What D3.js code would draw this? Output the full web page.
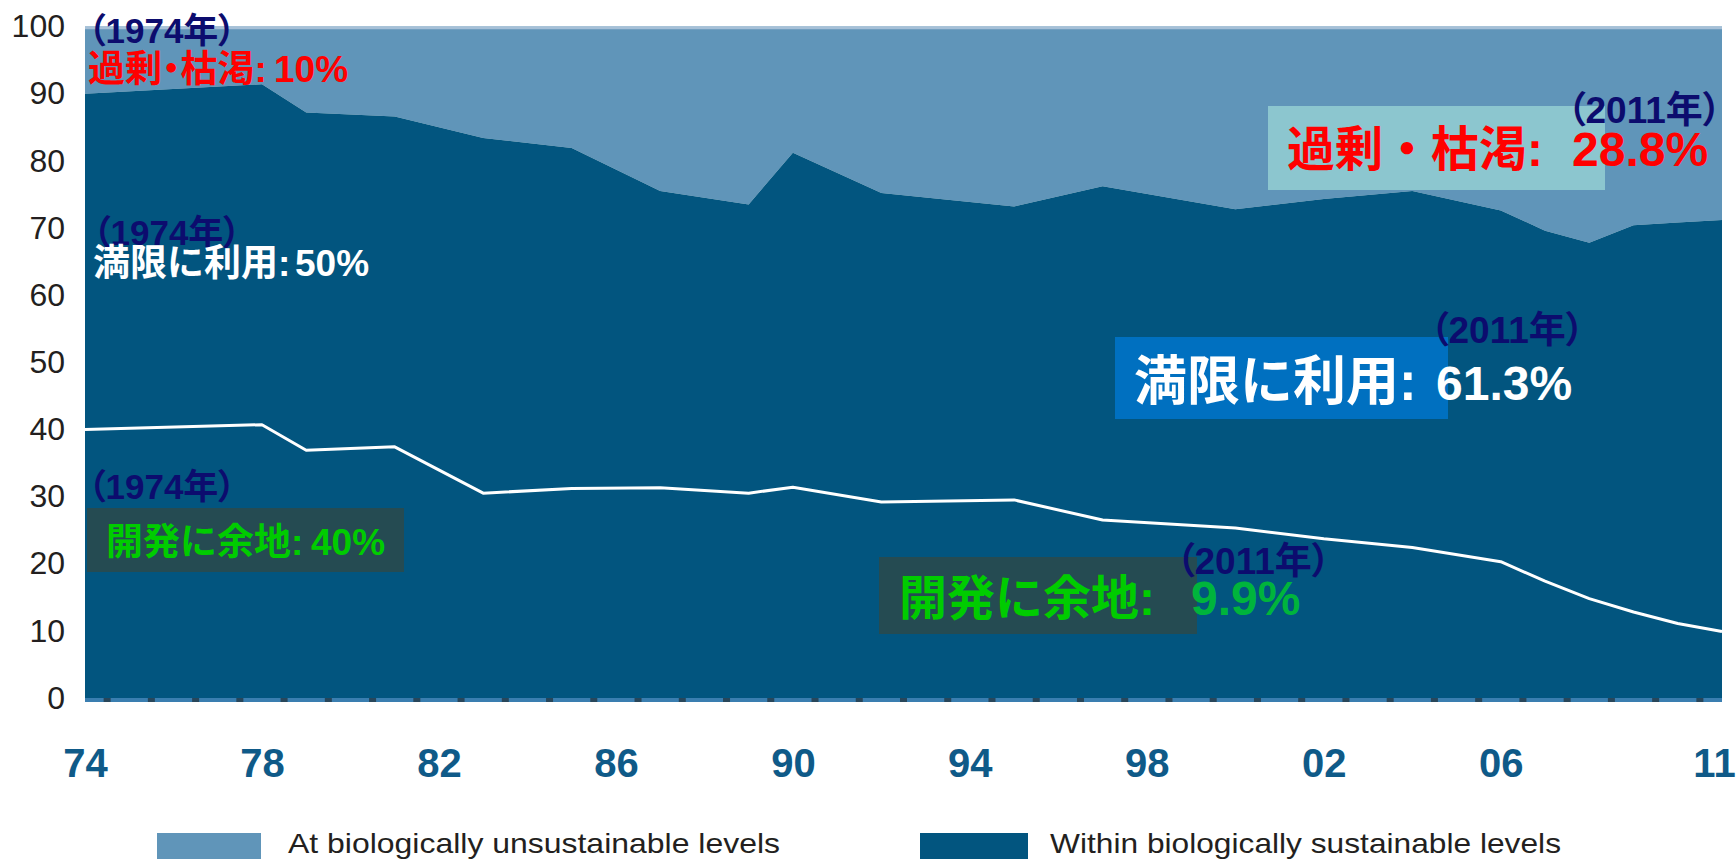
<!DOCTYPE html>
<html>
<head>
<meta charset="utf-8">
<script src="https://cdn.jsdelivr.net/npm/d3@7"></script>
<style>
  html, body { margin: 0; padding: 0; background: #ffffff; }
  svg { display: block; }
</style>
</head>
<body>
<svg id="chart" width="1736" height="859"></svg>
<script>
// Assessment years
const years = [1974, 1978, 1979, 1981, 1983, 1985, 1987, 1989, 1990, 1992, 1995, 1997,
               2000, 2002, 2004, 2006, 2007, 2008, 2009, 2010, 2011];
// Share of stocks within biologically sustainable levels (%)
const sustainable = [90.0, 91.4, 87.2, 86.6, 83.4, 81.9, 75.5, 73.5, 81.2, 75.2, 73.2, 76.2,
                     72.8, 74.3, 75.5, 72.6, 69.6, 67.8, 70.4, 70.8, 71.2];
// Share of stocks with room for expansion (under-fished, %)
const underfished = [40.0, 40.7, 36.9, 37.4, 30.5, 31.2, 31.3, 30.5, 31.4, 29.2, 29.5, 26.5,
                     25.3, 23.7, 22.4, 20.3, 17.4, 14.8, 12.8, 11.1, 9.9];

// Axis ticks
const xTickYears = [1974, 1978, 1982, 1986, 1990, 1994, 1998, 2002, 2006, 2011];
const xTickLabels = ["74", "78", "82", "86", "90", "94", "98", "02", "06", "11"];
const yTickValues = [0, 10, 20, 30, 40, 50, 60, 70, 80, 90, 100];

// Legend
const legendLabels = ["At biologically unsustainable levels", "Within biologically sustainable levels"];

const COL_OVER = "#6095b9";
const COL_SUST = "#02557f";
const NAVY = "#0c0c6e";
const FONT = "'Liberation Sans', 'Noto Sans CJK JP', Arial, sans-serif";

const svg = d3.select("#chart");
const plot = { left: 85, right: 1722, top: 26.5, bottom: 698 };

const x = d3.scaleLinear().domain([1974, 2011]).range([plot.left, plot.right]);
const y = d3.scaleLinear().domain([0, 100]).range([plot.bottom, plot.top]);

const rows = years.map((yr, i) => ({ year: yr, sust: sustainable[i], under: underfished[i] }));

// Unsustainable band: from the sustainable share up to 100 %
svg.append("path")
  .datum(rows)
  .attr("fill", COL_OVER)
  .attr("d", d3.area().x(d => x(d.year)).y0(d => y(d.sust)).y1(() => y(100)));

// Sustainable band: from 0 up to the sustainable share
svg.append("path")
  .datum(rows)
  .attr("fill", COL_SUST)
  .attr("d", d3.area().x(d => x(d.year)).y0(() => y(0)).y1(d => y(d.sust)));

// Thin light rule along the 100 % edge
svg.append("line")
  .attr("x1", x(1974)).attr("x2", x(2011))
  .attr("y1", y(100) + 1.2).attr("y2", y(100) + 1.2)
  .attr("stroke", "#a6c0d7").attr("stroke-width", 3);

// Under-fished share as a white line inside the sustainable band
svg.append("path")
  .datum(rows)
  .attr("fill", "none")
  .attr("stroke", "#ffffff")
  .attr("stroke-width", 3)
  .attr("stroke-linejoin", "round")
  .attr("d", d3.line().x(d => x(d.year)).y(d => y(d.under)));

// Baseline strip with small notches between the years
svg.append("rect")
  .attr("x", x(1974)).attr("y", y(0))
  .attr("width", x(2011) - x(1974)).attr("height", 4)
  .attr("fill", "#3a7eb0");
svg.append("g").selectAll("rect")
  .data(d3.range(1974.5, 2011, 1))
  .join("rect")
  .attr("x", d => x(d) - 3.5).attr("y", y(0))
  .attr("width", 7).attr("height", 4)
  .attr("fill", "#28465a");

// Y axis
const yAxis = svg.append("g")
  .attr("transform", "translate(65,0)")
  .call(d3.axisLeft(y).tickValues(yTickValues).tickSize(0).tickPadding(0));
yAxis.select(".domain").remove();
yAxis.selectAll("text")
  .attr("font-family", FONT)
  .attr("font-size", 32)
  .attr("fill", "#231f20");

// X axis
const xAxis = svg.append("g")
  .attr("transform", `translate(0,${plot.bottom})`)
  .call(d3.axisBottom(x).tickValues(xTickYears).tickFormat((d, i) => xTickLabels[i]).tickSize(0));
xAxis.select(".domain").remove();
xAxis.selectAll("text")
  .attr("y", 777 - plot.bottom)
  .attr("dy", null)
  .attr("font-family", FONT)
  .attr("font-size", 40)
  .attr("font-weight", "bold")
  .attr("fill", "#0f5a88");
// keep the last year label inside the page edge
xAxis.selectAll(".tick").filter(d => d === 2011).select("text").attr("dx", -8);

// Legend
const legendItems = [
  { label: legendLabels[0], color: COL_OVER, sx: 157, sw: 104, tx: 288, tw: 492 },
  { label: legendLabels[1], color: COL_SUST, sx: 920, sw: 108, tx: 1050, tw: 511 }
];
const lg = svg.append("g");
legendItems.forEach(it => {
  lg.append("rect").attr("x", it.sx).attr("y", 833).attr("width", it.sw).attr("height", 26).attr("fill", it.color);
  lg.append("text")
    .attr("x", it.tx).attr("y", 853)
    .attr("font-family", FONT).attr("font-size", 28)
    .attr("fill", "#231f20")
    .attr("textLength", it.tw).attr("lengthAdjust", "spacingAndGlyphs")
    .text(it.label);
});

// Annotation helpers
function box(x0, y0, w, h, fill) {
  svg.append("rect").attr("x", x0).attr("y", y0).attr("width", w).attr("height", h).attr("fill", fill);
}
function txt(x0, y0, s, size, fill, extra) {
  const t = svg.append("text")
    .attr("x", x0).attr("y", y0)
    .attr("font-family", FONT)
    .attr("font-weight", "bold")
    .attr("font-size", size)
    .attr("fill", fill)
    .text(s);
  if (extra) t.style("font-feature-settings", extra);
  return t;
}

const first = rows[0], last = rows[rows.length - 1];
const f0 = d3.format(".0f"), f1 = d3.format(".1f");
const over74 = f0(100 - first.sust), full74 = f0(first.sust - first.under), under74 = f0(first.under);
const over11 = f1(100 - last.sust), full11 = f1(last.sust - last.under), under11 = f1(last.under);

// 1974 annotations
txt(88, 43, "（1974年）", 35, NAVY, "'palt'");
txt(88, 82, "過剰・枯渇:", 37, "#ff0000", "'palt'");
txt(274, 82, over74 + "%", 37, "#ff0000");

txt(93, 245, "（1974年）", 35, NAVY, "'palt'");
txt(93, 276, "満限に利用:", 37, "#ffffff");
txt(295, 276, full74 + "%", 37, "#ffffff");

box(87, 508, 317, 64, "#254b52");
txt(88, 499, "（1974年）", 35, NAVY, "'palt'");
txt(106, 555, "開発に余地:", 37, "#00cc00");
txt(311, 555, under74 + "%", 37, "#00cc00");

// 2011 annotations
box(1268, 106, 337, 84, "#8cc6cf");
txt(1287, 166, "過剰・枯渇:", 48, "#ff0000");
txt(1572, 166, over11 + "%", 48, "#ff0000");
txt(1567, 123, "（2011年）", 37, NAVY, "'palt'");

box(1115, 337, 333, 82, "#0070c0");
txt(1134, 400, "満限に利用:", 53, "#ffffff");
txt(1436, 400, full11 + "%", 48, "#ffffff");
txt(1430, 343, "（2011年）", 37, NAVY, "'palt'");

box(879, 557, 318, 77, "#254b52");
txt(899, 615, "開発に余地:", 48, "#00cc00");
txt(1191, 615, under11 + "%", 48, "#00b43c");
txt(1176, 574, "（2011年）", 37, NAVY, "'palt'");
</script>
</body>
</html>
